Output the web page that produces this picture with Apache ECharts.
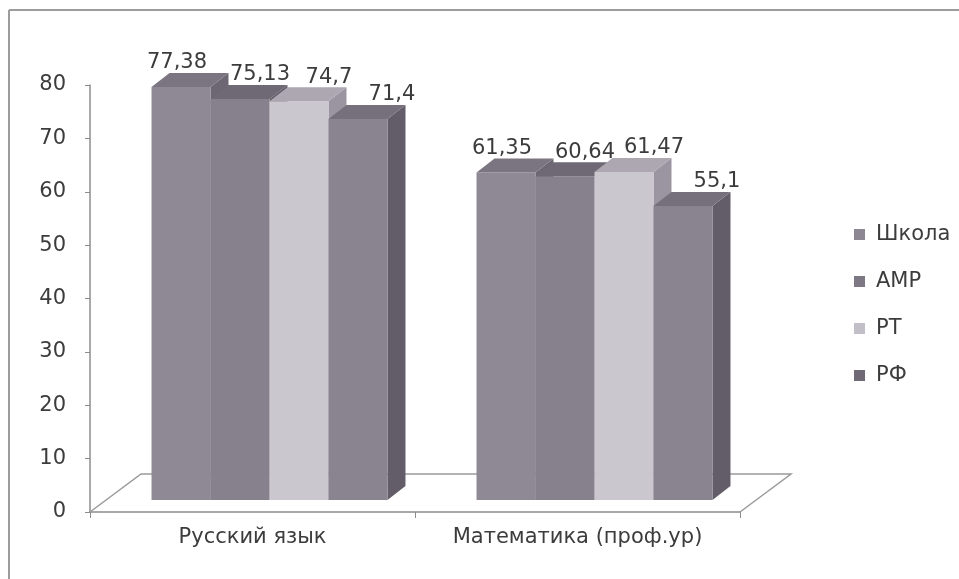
<!DOCTYPE html>
<html>
<head>
<meta charset="utf-8">
<script src="https://cdn.jsdelivr.net/npm/echarts@6/dist/echarts.min.js"></script>
<style>
  html, body { margin: 0; padding: 0; background: #fff; }
  #main { width: 959px; height: 579px; }
</style>
</head>
<body>
<div id="main"></div>
<script>
// данные
var categories = ['Русский язык', 'Математика (проф.ур)'];
var seriesNames = ['Школа', 'АМР', 'РТ', 'РФ'];
var school = [77.38, 61.35];
var amr = [75.13, 60.64];
var rt = [74.7, 61.47];
var rf = [71.4, 55.1];
var values = [school, amr, rt, rf];

// цвета граней: фронт / верх / бок
var colors = [
  { front: '#8e8994', top: '#7a7580', side: '#6c6772', legend: '#8c8792' },
  { front: '#87818d', top: '#6e6974', side: '#625d68', legend: '#7d7884' },
  { front: '#cbc7cf', top: '#aca7b0', side: '#9a95a0', legend: '#c3bfc8' },
  { front: '#8a8490', top: '#75707b', side: '#625d68', legend: '#6f6a76' }
];

var FONT = '"DejaVu Sans", sans-serif';
var BAR_RATIO = 0.1815;   // ширина столбца от ширины категории
var OX = 17, OY = -12;    // сдвиг передней грани (3d)
var DX = 18, DY = -14;    // глубина столбца
var FDX = 51, FDY = -38;  // глубина "пола"
var labelDx = [-4, 20, 30, 34];

var chart = echarts.init(document.getElementById('main'));

function barRenderer(s) {
  return function (params, api) {
    var cat = api.value(0);
    var val = api.value(1);
    var base = api.coord([cat, 0]);
    var top = api.coord([cat, val]);
    var band = api.size([1, 0])[0];
    var bw = band * BAR_RATIO;
    var x0 = base[0] - 2 * bw + s * bw + OX;
    var x1 = x0 + bw;
    var yb = base[1] + OY;
    var yt = top[1] + OY;
    var c = colors[s];
    return {
      type: 'group',
      children: [
        {
          type: 'polygon',
          shape: { points: [[x1, yt], [x1 + DX, yt + DY], [x1 + DX, yb + DY], [x1, yb]] },
          style: { fill: c.side }
        },
        {
          type: 'rect',
          shape: { x: x0, y: yt, width: bw, height: yb - yt },
          style: { fill: c.front }
        },
        {
          type: 'polygon',
          shape: { points: [[x0, yt], [x0 + DX, yt + DY], [x1 + DX, yt + DY], [x1, yt]] },
          style: { fill: c.top }
        },
        {
          type: 'text',
          x: (x0 + x1) / 2 + labelDx[s],
          y: yt - 24,
          z2: 100,
          style: {
            text: String(val).replace('.', ','),
            font: '21px ' + FONT,
            fill: '#3c3c3c',
            align: 'center',
            verticalAlign: 'middle'
          }
        }
      ]
    };
  };
}

var series = [{
  type: 'custom',
  silent: true,
  z: 1,
  data: [[0, 0]],
  renderItem: function (params, api) {
    var cs = params.coordSys;
    var x = cs.x, y = cs.y + cs.height, w = cs.width;
    return {
      type: 'polyline',
      shape: { points: [[x, y], [x + FDX, y + FDY], [x + w + FDX, y + FDY], [x + w, y]] },
      style: { stroke: '#9a9a9a', lineWidth: 1.5, fill: null }
    };
  }
}];

seriesNames.forEach(function (name, s) {
  series.push({
    name: name,
    type: 'custom',
    z: 2,
    itemStyle: { color: colors[s].legend },
    renderItem: barRenderer(s),
    data: values[s].map(function (v, i) { return [i, v]; })
  });
});

var option = {
  backgroundColor: '#fff',
  animation: false,
  grid: { left: 90, right: 219, top: 85, bottom: 67 },
  legend: {
    data: seriesNames,
    orient: 'vertical',
    left: 849,
    top: 219,
    itemWidth: 11,
    itemHeight: 11,
    itemGap: 26,
    icon: 'rect',
    textStyle: { fontFamily: FONT, fontSize: 21, color: '#3c3c3c', padding: [0, 0, 0, 6] }
  },
  xAxis: {
    type: 'category',
    data: categories,
    boundaryGap: true,
    axisLine: { lineStyle: { color: '#8c8c8c', width: 1.5 } },
    axisTick: { show: true, length: 6, lineStyle: { color: '#8c8c8c' } },
    axisLabel: { fontFamily: FONT, fontSize: 21, color: '#3c3c3c', margin: 15 },
    splitLine: { show: false }
  },
  yAxis: {
    type: 'value',
    min: 0,
    max: 80,
    interval: 10,
    axisLine: { show: true, lineStyle: { color: '#8c8c8c', width: 1.5 } },
    axisTick: { show: true, length: 5, lineStyle: { color: '#8c8c8c' } },
    axisLabel: { fontFamily: FONT, fontSize: 21, color: '#3c3c3c', margin: 24 },
    splitLine: { show: false }
  },
  graphic: [
    { type: 'line', shape: { x1: 9, y1: 10, x2: 959, y2: 10 }, style: { stroke: '#9c9c9c', lineWidth: 2 } },
    { type: 'line', shape: { x1: 9, y1: 10, x2: 9, y2: 579 }, style: { stroke: '#9c9c9c', lineWidth: 2 } }
  ],
  series: series
};

chart.setOption(option);
</script>
</body>
</html>
